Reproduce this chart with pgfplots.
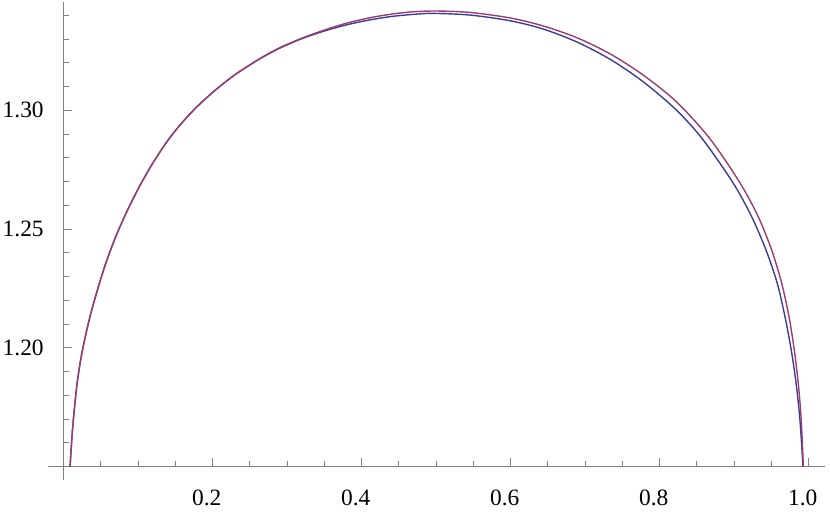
\documentclass[border=0pt]{standalone}
\usepackage{fontspec}
\setmainfont{Liberation Serif}
\usepackage{pgfplots}
\pgfplotsset{compat=1.18}
\usetikzlibrary{calc}
\definecolor{mblue}{rgb}{0.24,0.24,0.6}
\definecolor{mred}{rgb}{0.6,0.24,0.442}
\definecolor{axgray}{gray}{0.5}

\begin{document}
\begin{tikzpicture}
  \begin{axis}[
      scale only axis,
      width=388.5pt,
      height=232.35pt,
      xmin=-0.0211, xmax=1.0219,
      ymin=1.15, ymax=1.3456,
      axis x line=bottom,
      axis y line=middle,
      axis line style={axgray, line width=0.5pt, -},
      tick style={axgray, line width=0.5pt},
      tick align=inside,
      major tick length=4.35pt,
      minor tick length=2.65pt,
      xtick={0.2,0.4,0.6,0.8,1.0},
      xticklabels={0.2,0.4,0.6,0.8,1.0},
      minor xtick={0.05,0.1,0.15,0.25,0.3,0.35,0.45,0.5,0.55,0.65,0.7,0.75,0.85,0.9,0.95},
      ytick={1.20,1.25,1.30},
      yticklabels={1.20,1.25,1.30},
      minor ytick={1.16,1.17,1.18,1.19,1.21,1.22,1.23,1.24,1.26,1.27,1.28,1.29,1.31,1.32,1.33,1.34},
      ticklabel style={font=\fontsize{11.7}{14}\selectfont, text=black},
      xticklabel style={yshift=-8pt, xshift=-3pt},
      yticklabel style={xshift=-6.5pt},
      clip=false,
    ]
    % first curve (blue)
    \addplot[mblue, line width=0.7pt, smooth] coordinates {
      (0.0085,1.1500) (0.0121,1.1668) (0.0180,1.1851) (0.0250,1.1988)
      (0.0350,1.2128) (0.0449,1.2240) (0.0558,1.2350) (0.0689,1.2461)
      (0.0846,1.2573) (0.1024,1.2684) (0.1181,1.2770) (0.1383,1.2867)
      (0.1561,1.2938) (0.1785,1.3014) (0.2054,1.3090) (0.2322,1.3155)
      (0.2635,1.3217) (0.2903,1.3262) (0.3200,1.3302) (0.3500,1.3334)
      (0.3800,1.3360) (0.4100,1.3380) (0.4400,1.3395) (0.4700,1.3404)
      (0.4957,1.3408) (0.5454,1.3401) (0.5991,1.3377) (0.6438,1.3342)
      (0.6886,1.3288) (0.7333,1.3215) (0.7780,1.3120) (0.8228,1.3000)
      (0.8585,1.2875) (0.8988,1.2693) (0.9235,1.2552) (0.9427,1.2412)
      (0.9578,1.2272) (0.9682,1.2131) (0.9766,1.1991) (0.9831,1.1851)
      (0.9879,1.1710) (0.9910,1.1570) (0.9922,1.1500)
    };
    % second curve (red)
    \addplot[mred, line width=0.7pt, smooth] coordinates {
      (0.0085,1.1500) (0.0121,1.1668) (0.0180,1.1851) (0.0250,1.1988)
      (0.0350,1.2128) (0.0449,1.2240) (0.0558,1.2350) (0.0689,1.2461)
      (0.0846,1.2573) (0.1024,1.2684) (0.1181,1.2770) (0.1383,1.2867)
      (0.1561,1.2938) (0.1785,1.3014) (0.2054,1.3090) (0.2322,1.3155)
      (0.2635,1.3218) (0.2903,1.3264) (0.3200,1.3304) (0.3500,1.3338)
      (0.3800,1.3367) (0.4100,1.3389) (0.4400,1.3405) (0.4700,1.3415)
      (0.5007,1.3418) (0.5454,1.3412) (0.5991,1.3389) (0.6438,1.3355)
      (0.6886,1.3306) (0.7333,1.3238) (0.7780,1.3148) (0.8228,1.3035)
      (0.8675,1.2880) (0.9077,1.2695) (0.9323,1.2552) (0.9503,1.2412)
      (0.9638,1.2272) (0.9736,1.2131) (0.9807,1.1991) (0.9860,1.1851)
      (0.9897,1.1710) (0.9919,1.1570) (0.9928,1.1500)
    };
    \draw[axgray, line width=0.5pt] (axis cs:0,1.15) -- (axis cs:0,1.1444);
    \coordinate (ll) at (rel axis cs:0,0);
    \coordinate (ur) at (rel axis cs:1,1);
  \end{axis}
  \pgfresetboundingbox
  \path ($(ll)+(-24pt,-22.65pt)$) rectangle ($(ur)+(2.5pt,1pt)$);
\end{tikzpicture}
\end{document}
